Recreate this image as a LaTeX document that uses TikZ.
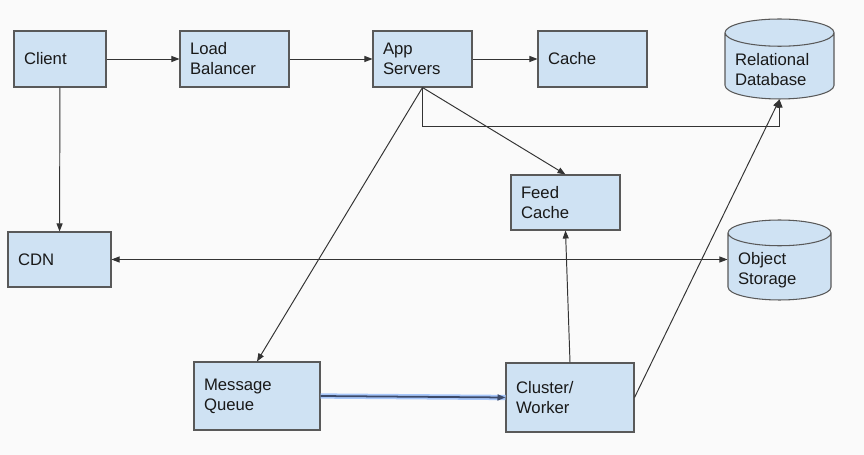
\documentclass[tikz,border=0pt]{standalone}
\usepackage{fontspec}
\setmainfont{Liberation Sans}
\usepackage{xcolor}
\usetikzlibrary{arrows.meta, shapes.geometric}
\definecolor{boxblue}{HTML}{CFE2F3}
\definecolor{boxline}{HTML}{595959}
\definecolor{wire}{HTML}{333333}
\definecolor{halo}{HTML}{A8C7FA}
\definecolor{qline}{HTML}{3C4A6A}
\tikzset{
    box/.style={draw=boxline, fill=boxblue, line width=0.6pt, align=left, text width=#1,
        inner xsep=0.2cm, inner ysep=0pt, font=\fontsize{9.5}{11.4}\selectfont, text=black!90},
    store/.style={box=#1, cylinder, shape border rotate=90, aspect=0.25, anchor=shape center},
    wirearrow/.style={draw=wire, line width=0.55pt, -{Triangle[length=1.6mm, width=1.2mm]}}
}
\begin{document}
\begin{tikzpicture}[x=0.02cm, y=-0.02cm]
    \fill[black!2] (0,0) rectangle (864,455);
    \useasboundingbox (0,0) rectangle (864,455);
    %
    \node[box=1.44cm, minimum height=1.12cm] (client) at (60,59) {Client};
    \node[box=1.78cm, minimum height=1.12cm] (lb) at (234.5,59) {Load\\Balancer};
    \node[box=1.58cm, minimum height=1.12cm] (app) at (422.5,59) {App\\Servers};
    \node[box=1.78cm, minimum height=1.12cm] (cache) at (592.5,59) {Cache};
    \node[store=1.78cm, minimum width=2.18cm, minimum height=1.6cm] (rdb) at (779.5,59) {Relational\\Database};
    %
    \node[box=1.78cm, minimum height=1.10cm] (feed) at (565.5,202.5) {Feed\\Cache};
    \node[box=1.66cm, minimum height=1.10cm] (cdn) at (59.5,259.5) {CDN};
    \node[store=1.66cm, minimum width=2.06cm, minimum height=1.6cm] (obj) at (779.5,260) {Object\\Storage};
    %
    \node[box=2.12cm, minimum height=1.36cm] (mq) at (257,396) {Message\\Queue};
    \node[box=2.16cm, minimum height=1.38cm] (worker) at (570,397.5) {Cluster/\\Worker};
    %
    \draw[wirearrow] (client) -- (lb);
    \draw[wirearrow] (lb) -- (app);
    \draw[wirearrow] (app) -- (cache);
    \draw[wirearrow] (client) -- (cdn);
    \draw[wirearrow] (app.south) -- (mq.north);
    \draw[wirearrow] (app.south) -- (feed.north);
    \draw[wirearrow] (app.south) -- ++(0,39) -| (rdb.south);
    \draw[wirearrow, {Triangle[length=1.6mm, width=1.2mm]}-{Triangle[length=1.6mm, width=1.2mm]}] (cdn.east) -- (cdn.east -| obj.west);
    %
    \draw[halo, line width=3pt] (mq.east) -- (worker.west);
    \draw[wirearrow, draw=qline, line width=1pt] (mq.east) -- (worker.west);
    \draw[wirearrow] (worker.north) -- (feed.south);
    \draw[wirearrow] (worker.east) -- (rdb.south);
\end{tikzpicture}
\end{document}
